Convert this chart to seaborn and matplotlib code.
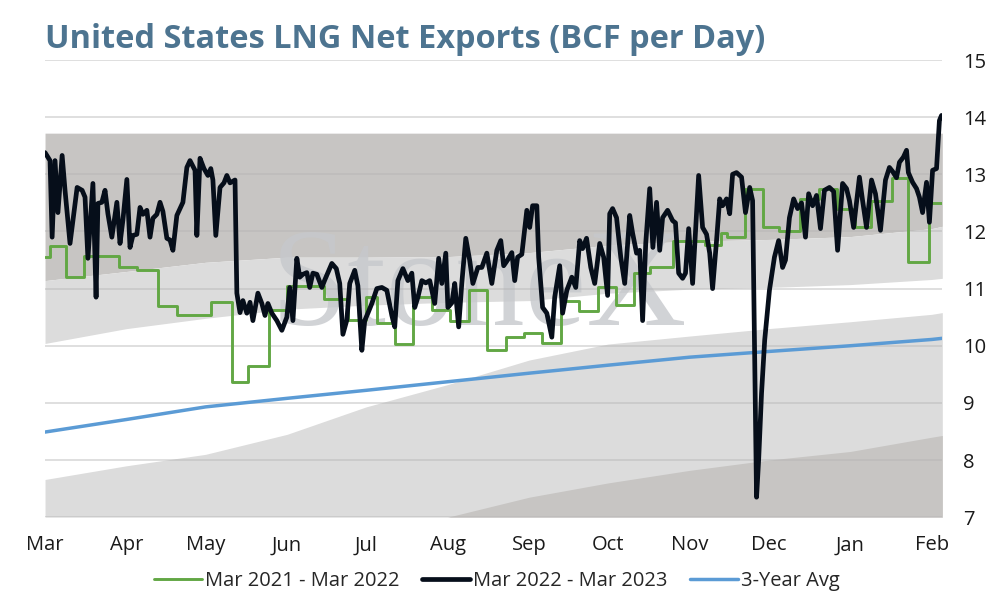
import pandas as pd
import matplotlib
matplotlib.use('Agg')
import matplotlib.pyplot as plt
import matplotlib.dates as mdates
import seaborn as sns

# season start (x axis runs Mar -> early Feb)
start = pd.Timestamp('2022-03-01')

# shaded range bands, read at month starts (days since Mar 1) + last day
band_days = [0, 31, 61, 92, 122, 153, 184, 214, 245, 275, 306, 337, 341]
band_top = [13.72] * 13
dark_low = [11.14, 11.30, 11.46, 11.55, 11.55, 11.56, 11.63, 11.76, 11.83, 11.86, 11.91, 12.05, 12.09]
light_low = [10.04, 10.30, 10.48, 10.64, 10.71, 10.76, 10.79, 10.92, 10.99, 11.02, 11.07, 11.16, 11.18]
lower_top = [7.66, 7.90, 8.10, 8.45, 8.93, 9.32, 9.75, 10.03, 10.17, 10.30, 10.42, 10.55, 10.58]
floor_top = [7.0, 7.0, 7.0, 7.0, 7.0, 7.0, 7.35, 7.60, 7.82, 8.00, 8.15, 8.40, 8.43]

# 3-year average
avg_vals = [8.49, 8.71, 8.93, 9.08, 9.22, 9.37, 9.52, 9.66, 9.80, 9.90, 10.00, 10.11, 10.13]

# Mar 2021 - Mar 2022 (weekly steps)
green_days = [0, 2, 8, 15, 28, 35, 43, 50, 63, 71, 77, 85, 92, 106, 115, 122, 126, 133,
              140, 147, 154, 161, 168, 175, 182, 189, 196, 203, 210, 217, 224, 230, 238.5,
              251, 257, 259, 266, 273, 279, 287, 294, 301, 308, 314, 322, 328, 336, 340.7]
green_vals = [11.55, 11.74, 11.20, 11.57, 11.37, 11.32, 10.69, 10.54, 10.76, 9.36, 9.64, 10.62,
              11.04, 10.81, 10.45, 10.85, 10.40, 10.03, 10.86, 10.62, 10.44, 10.97, 9.93, 10.15,
              10.22, 10.04, 10.79, 10.60, 11.02, 10.71, 11.27, 11.37, 11.84, 11.77, 11.98, 11.90,
              12.75, 12.08, 12.00, 12.57, 12.74, 12.40, 12.07, 12.54, 12.94, 11.46, 12.49, 12.49]

# Mar 2022 - Mar 2023 (daily)
black_days = [0, 1.9, 2.7, 3.8, 4.9, 6.5, 7.6, 9.5, 12.2, 14.1, 15.2, 16.3, 18.2, 19.4, 20.1,
              21.6, 22.8, 23.9, 25.4, 27.3, 28.5, 29.6, 31.1, 32.3, 33.4, 34.9, 36.1, 37.2,
              38.7, 39.9, 41, 42.5, 43.7, 44.8, 46.3, 47.5, 48.6, 50.1, 51.3, 52.4, 53.9, 55.1,
              57, 57.7, 58.9, 60.4, 61.9, 63, 63.8, 64.9, 66.5, 68, 69.1, 70.3, 72.2, 72.9,
              74.1, 75.2, 76.7, 77.9, 79, 80.9, 82.4, 83.6, 84.7, 86.2, 88.1, 90, 91.9, 93,
              94.2, 95.7, 96.8, 98, 99.5, 100.6, 101.8, 103.3, 105.2, 106.3, 107.5, 109, 110.7,
              112, 113.2, 114.7, 115.8, 117.7, 118.9, 120.4, 121.5, 122.7, 124.2, 126.1, 128,
              129.9, 131.8, 132.9, 134.1, 136, 137.9, 139.4, 140.5, 141.7, 143.2, 144.7, 146.2,
              148.1, 149.6, 150.8, 152.3, 153.1, 154.6, 155.7, 157.2, 158.4, 159.9, 161.4,
              162.6, 164.5, 166, 167.9, 169.8, 171.7, 173.2, 174.3, 175.8, 177.4, 178.5, 179.6,
              181.2, 183.1, 184.2, 185.3, 186.9, 187.6, 189.1, 190.7, 192.6, 193.7, 195.6,
              196.7, 198.3, 200.2, 201.7, 203.2, 204.3, 205.8, 207.4, 208.9, 210.8, 212.3,
              213.8, 214.6, 215.7, 217.2, 218.8, 220.3, 222.2, 223.3, 224.8, 226, 227.1, 228.3,
              229.8, 231, 232.4, 233.6, 234.7, 236.6, 238.5, 239.6, 240.8, 242.3, 243.4, 244.6,
              246.1, 247.2, 248.4, 249.9, 251.4, 252.6, 253.7, 255.2, 256.4, 257.5, 259, 260.2,
              261.3, 262.8, 264.7, 266.2, 267.8, 268.9, 270.4, 271.2, 272.3, 273.5, 275.3,
              277.2, 278.8, 280.3, 281.4, 282.9, 284.5, 286, 287.5, 289, 290.2, 291.7, 293.2,
              294.7, 296.2, 298.1, 299.7, 301.2, 303.1, 304.6, 305.7, 307.3, 309.5, 310.7,
              312.2, 314.1, 315.6, 317.5, 319.4, 320.9, 322.1, 323.6, 324.7, 326.2, 327.4,
              328.1, 329.7, 331.2, 332.3, 333.5, 335, 336.1, 337.3, 338.8, 339.9, 340.7]
black_vals = [13.38, 13.24, 11.90, 13.24, 12.33, 13.33, 12.72, 11.79, 12.77, 12.72, 12.60, 11.53,
              12.84, 10.85, 12.49, 12.51, 12.72, 12.31, 11.90, 12.51, 11.79, 12.20, 12.91, 11.72,
              11.93, 11.95, 12.42, 12.30, 12.37, 11.90, 12.23, 12.30, 12.51, 12.35, 11.88, 11.85,
              11.67, 12.28, 12.40, 12.51, 13.12, 13.24, 13.07, 11.93, 13.28, 13.10, 12.98, 13.10,
              12.90, 11.93, 12.77, 12.85, 12.98, 12.85, 12.90, 10.92, 10.58, 10.79, 10.57, 10.76,
              10.44, 10.92, 10.74, 10.53, 10.74, 10.57, 10.44, 10.27, 10.50, 11.02, 10.44, 11.53,
              11.20, 11.25, 11.28, 11.02, 11.27, 11.25, 11.02, 11.15, 11.28, 11.44, 11.35, 11.09,
              10.20, 10.45, 11.09, 11.32, 11.05, 9.92, 10.44, 10.57, 10.74, 11.00, 11.02, 10.97,
              10.53, 10.33, 11.14, 11.35, 11.14, 11.27, 10.67, 10.85, 11.14, 11.10, 11.14, 10.74,
              11.53, 11.09, 11.62, 10.67, 10.75, 11.09, 10.33, 11.10, 11.88, 11.49, 11.09, 11.37,
              11.37, 11.62, 11.09, 11.67, 11.84, 11.40, 11.50, 11.63, 11.14, 11.55, 11.60, 12.37,
              12.07, 12.45, 12.45, 11.55, 10.67, 10.57, 10.15, 10.85, 11.40, 10.57, 10.97, 11.20,
              11.02, 11.84, 11.70, 11.88, 11.37, 11.09, 11.79, 11.55, 10.88, 12.31, 12.40, 12.24,
              11.55, 11.09, 12.28, 11.97, 11.62, 11.67, 10.44, 11.80, 12.75, 11.72, 12.51, 11.67,
              12.24, 12.37, 12.19, 12.15, 11.27, 11.18, 11.27, 12.05, 11.09, 12.00, 12.98, 12.07,
              11.95, 11.62, 11.00, 11.84, 12.57, 12.45, 12.57, 12.31, 13.00, 13.03, 12.95, 12.33,
              12.77, 12.54, 7.35, 8.00, 9.17, 10.10, 10.97, 11.55, 11.84, 11.37, 11.50, 12.24,
              12.57, 12.40, 12.50, 11.90, 12.66, 12.45, 12.63, 12.05, 12.72, 12.77, 12.70, 11.67,
              12.84, 12.75, 12.54, 12.07, 12.95, 12.54, 12.07, 12.90, 12.66, 12.02, 12.90, 13.12,
              13.05, 12.94, 13.21, 13.30, 13.42, 13.03, 12.86, 12.75, 12.60, 12.33, 12.86, 12.16,
              13.07, 13.10, 13.94, 14.03]

month_labels = ['Mar', 'Apr', 'May', 'Jun', 'Jul', 'Aug', 'Sep', 'Oct', 'Nov', 'Dec', 'Jan', 'Feb']
y_ticks = [7, 8, 9, 10, 11, 12, 13, 14, 15]


def to_dates(days):
    return start + pd.to_timedelta(days, unit='D')


band_x = to_dates(band_days)
green = pd.DataFrame({'date': to_dates(green_days), 'val': green_vals})
black = pd.DataFrame({'date': to_dates(black_days), 'val': black_vals})
avg = pd.DataFrame({'date': band_x, 'val': avg_vals})

sns.set_style('white')
plt.rcParams['font.family'] = ['Open Sans', 'DejaVu Sans']

fig, ax = plt.subplots(figsize=(9.94, 6.0), dpi=100)
fig.subplots_adjust(left=0.0453, right=0.948, top=0.9, bottom=0.138)

dark = '#c7c5c3'
light = '#dcdcdc'
ax.fill_between(band_x, dark_low, band_top, color=dark, lw=0, zorder=1)
ax.fill_between(band_x, light_low, dark_low, color=light, lw=0, zorder=1)
ax.fill_between(band_x, 7, lower_top, color=light, lw=0, zorder=1)
ax.fill_between(band_x, 7, floor_top, color=dark, lw=0, zorder=1.2)

# faint logo watermark
ax.text(to_dates(165), 10.95, 'StoneX', family=['Liberation Serif', 'DejaVu Serif'],
        fontsize=100, color='#c6c8cc', alpha=0.8, ha='center', va='center', zorder=2)

sns.lineplot(data=avg, x='date', y='val', ax=ax, color='#5b9bd5', lw=2.5,
             label='3-Year Avg', zorder=4)
sns.lineplot(data=green, x='date', y='val', ax=ax, color='#62a744', lw=2.1,
             drawstyle='steps-post', label='Mar 2021 - Mar 2022', zorder=5)
sns.lineplot(data=black, x='date', y='val', ax=ax, color='#060e1a', lw=3.4,
             label='Mar 2022 - Mar 2023', zorder=6)

ax.set_xlim(to_dates(0), to_dates(341))
ax.set_ylim(7, 15)
ax.set_yticks(y_ticks)
ax.yaxis.tick_right()
ax.set_xticks(to_dates(band_days[:12]))
ax.set_xticklabels(month_labels)
ax.tick_params(axis='both', length=0, labelsize=14.5, colors='#1a1a1a')
ax.tick_params(axis='y', pad=15)
ax.tick_params(axis='x', pad=13)
ax.set_xlabel('')
ax.set_ylabel('')
for s in ax.spines.values():
    s.set_visible(False)
ax.set_axisbelow(False)
ax.grid(axis='y', color='#b4b4b4', alpha=0.5, lw=1.2, zorder=2.5)
ax.grid(axis='x', visible=False)

handles, labels = ax.get_legend_handles_labels()
order = [labels.index('Mar 2021 - Mar 2022'), labels.index('Mar 2022 - Mar 2023'),
         labels.index('3-Year Avg')]
ax.get_legend().remove()
fig.legend([handles[i] for i in order], [labels[i] for i in order],
           loc='center', bbox_to_anchor=(0.5, 1 - 581 / 600), ncol=3, frameon=False,
           fontsize=14.5, handlelength=2.4, handletextpad=0.15, columnspacing=1.1)

fig.text(45 / 994, 1 - 39 / 600, 'United States LNG Net Exports (BCF per Day)',
         fontsize=23.4, fontweight='bold', color='#4d7490', ha='left', va='center')

fig.savefig('out.png', dpi=100)
